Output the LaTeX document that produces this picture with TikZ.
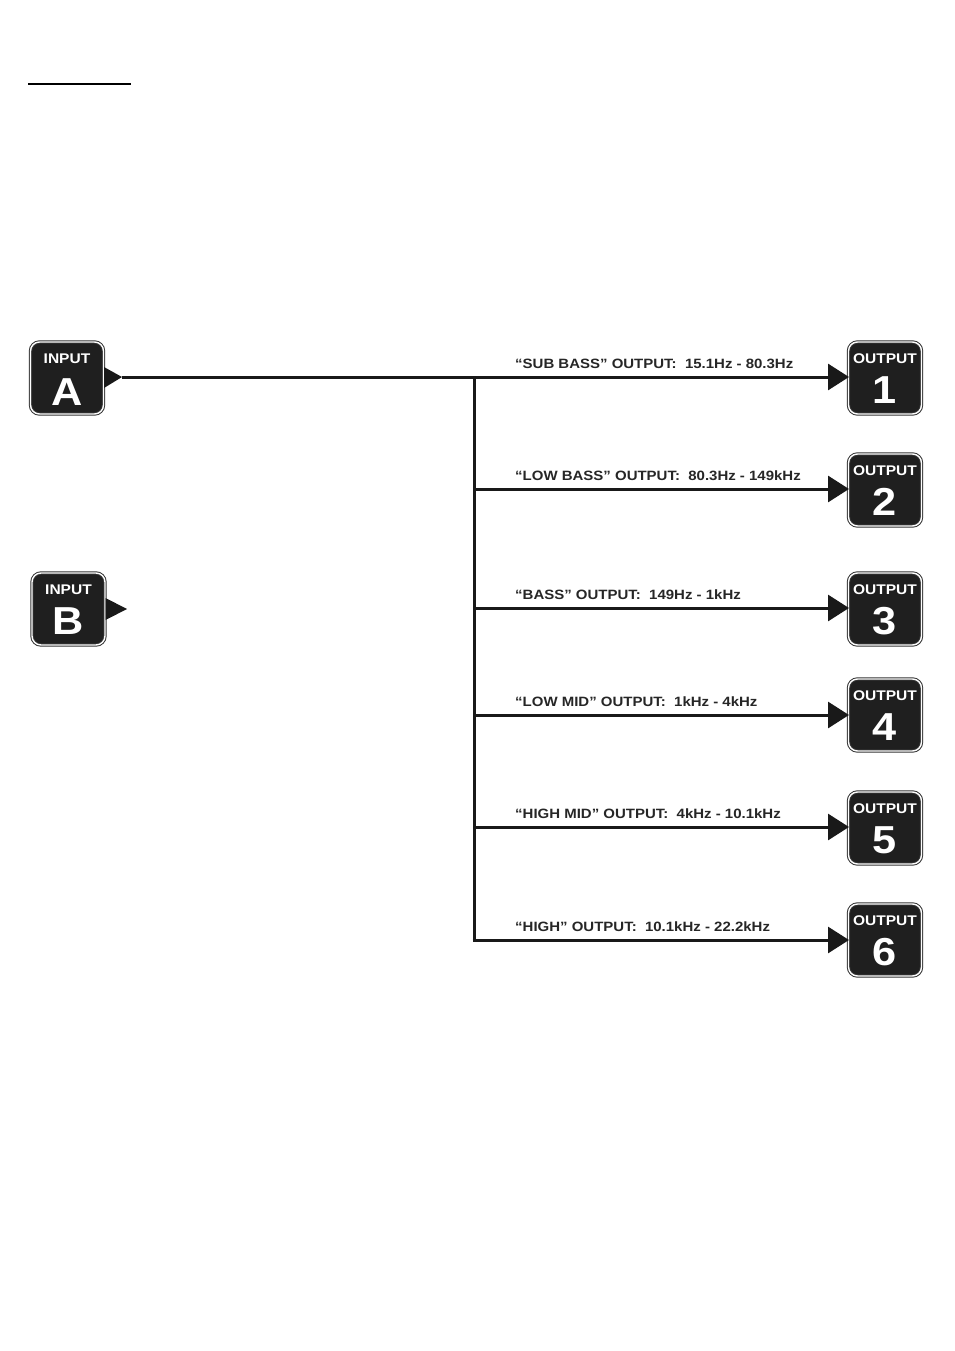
\documentclass[tikz,border=0pt]{standalone}
\usepackage{fontspec}
\setmainfont{Liberation Sans}
\newfontfamily\wide{Liberation Sans}[FakeStretch=1.11]
\usetikzlibrary{arrows.meta}
\begin{document}
\begin{tikzpicture}[x=1pt,y=-1pt,
  port/.style={draw=black!80, line width=1pt, double=white, double distance=1.4pt,
    fill=black!88, rounded corners=9pt, minimum width=73pt, minimum height=72pt, inner sep=0pt},
  tag/.style={font=\wide\bfseries\fontsize{14}{14}\selectfont, text=white, anchor=base, inner sep=0pt},
  big/.style={font=\wide\bfseries\fontsize{39}{39}\selectfont, text=white, anchor=base, inner sep=0pt},
  band/.style={font=\wide\bfseries\fontsize{13.5}{14}\selectfont, text=black!85, anchor=base west, inner sep=0pt},
  wire/.style={line width=3pt, black!90},
  arr/.style={wire, -{Triangle[length=21pt,width=26pt]}, shorten >=-1pt},
  ptr/.style={fill=black!90, draw=none}]
\useasboundingbox (0,0) rectangle (954,1351);
% heading underline
\coordinate (u1) at (28,84);
\coordinate (u2) at (131,84);
\draw[line width=1.2pt] (u1) -- (u2);
% inputs
\node[port] (inA) at (67,378) {};
\node[tag] (inAt) at (67,363) {INPUT};
\node[big] (inAl) at (67,405) {A};
\node[port] (inB) at (68.5,609) {};
\node[tag] (inBt) at (68.5,594) {INPUT};
\node[big] (inBl) at (68.5,634) {B};
% pointers
\coordinate (tA) at (122,377);
\coordinate (tB) at (127,609);
\fill[ptr] ([yshift=-10pt]inA.east) -- (tA) -- ([yshift=11pt]inA.east) -- cycle;
\fill[ptr] ([yshift=-11pt]inB.east) -- (tB) -- ([yshift=11pt]inB.east) -- cycle;
% outputs
\foreach \n/\y in {1/378,2/490,3/609,4/715,5/828,6/940}{
  \node[port] (out\n) at (885,\y) {};
  \node[tag] (out\n t) at (885,\y-15) {OUTPUT};
  \node[big] (out\n d) at (885,\y+25) {\n};
}
% junctions
\coordinate (j1) at (474,377);
\coordinate (j2) at (474,489);
\coordinate (j3) at (474,608);
\coordinate (j4) at (474,715);
\coordinate (j5) at (474,827);
\coordinate (j6) at (474,940);
\draw[wire] (tA) -- (j1);
\draw[wire, line join=miter] (j1) -- (j6);
\draw[arr] (j1) -- (out1.west |- j1);
\draw[arr] (j2) -- (out2.west |- j2);
\draw[arr] (j3) -- (out3.west |- j3);
\draw[arr] (j4) -- (out4.west |- j4);
\draw[arr] (j5) -- (out5.west |- j5);
\draw[arr] ([xshift=-1.5pt]j6) -- (out6.west |- j6);
% labels
\node[band] (l1) at (515,368) {“SUB BASS” OUTPUT:\ \ 15.1Hz - 80.3Hz};
\node[band] (l2) at (515,480) {“LOW BASS” OUTPUT:\ \ 80.3Hz - 149kHz};
\node[band] (l3) at (515,599) {“BASS” OUTPUT:\ \ 149Hz - 1kHz};
\node[band] (l4) at (515,706) {“LOW MID” OUTPUT:\ \ 1kHz - 4kHz};
\node[band] (l5) at (515,818) {“HIGH MID” OUTPUT:\ \ 4kHz - 10.1kHz};
\node[band] (l6) at (515,931) {“HIGH” OUTPUT:\ \ 10.1kHz - 22.2kHz};
\end{tikzpicture}
\end{document}
